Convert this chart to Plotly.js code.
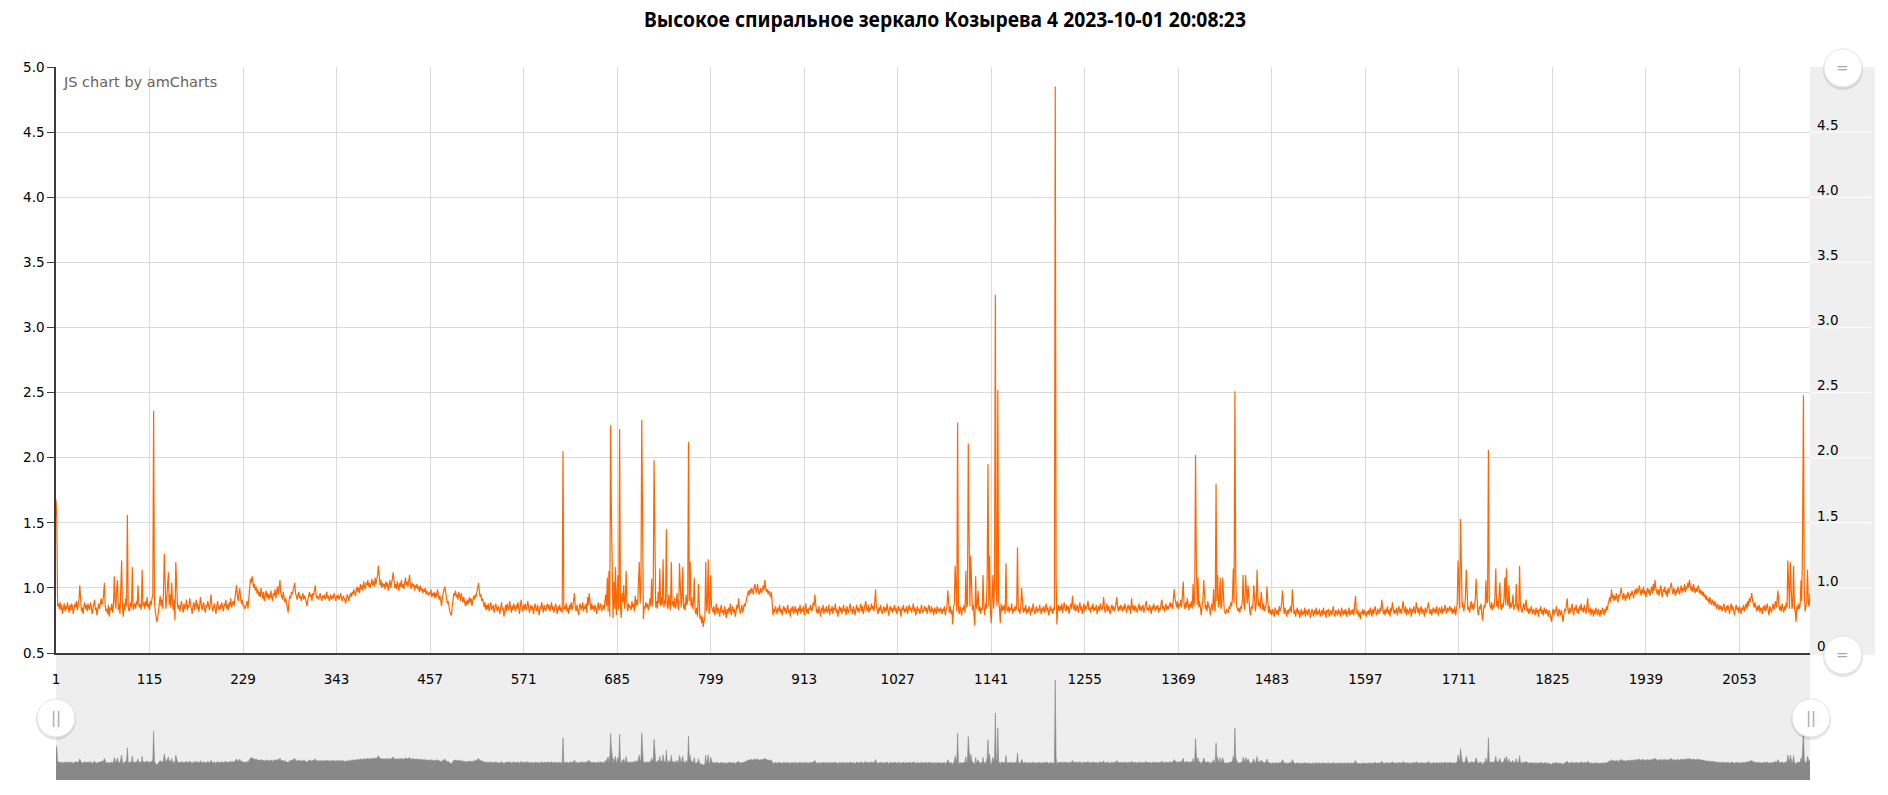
<!DOCTYPE html>
<html>
<head>
<meta charset="utf-8">
<script src="https://cdn.plot.ly/plotly-3.0.1.min.js"></script>
<style>
	html, body { margin: 0; padding: 0; background: #fff; }
	#chart { width: 1888px; height: 795px; }
</style>
</head>
<body>
<div id="chart"></div>
<script>
const chartTitle = 'Высокое спиральное зеркало Козырева 4 2023-10-01 20:08:23';

// one reading per sample, sample number = position + 1
const values = [
	// 1
	1.68, 1.52, .86, .88, .84, .89, .83, .87, .80, .85, .88, .82, .86, .84, .89, .85, .81, .87, .83, .88,
	.86, .80, .84, .88, .85, .90, .83, .86, .91, 1.02, .87, .82, .85, .80, .86, .89, .84, .87, .82, .88,
	.85, .83, .89, .86, .80, .84, .87, .91, .83, .85, .79, .86, .88, .84, .90, .92, .87, .89, .95, 1.04,
	.86, .82, .84, .80, .87, .78, .85, .83, .88, .81, .86, 1.09, .90, .84, 1.00, 1.06, .83, .88, .80, .95,
	1.21, .85, .78, .88, .83, .92, .86, 1.56, .87, .82, .84, .89, .85, 1.16, .83, .86, .88, .84, .90, .87,
	// 101
	1.02, .87, .85, .88, .83, 1.14, .86, .89, .84, .90, .86, .93, .85, .88, .83, .90, .87, .92, .95, 2.36,
	.90, .82, .78, .74, .77, .85, .88, .94, .86, .91, .84, .96, 1.26, .88, .84, .92, 1.02, 1.12, .87, .95,
	.85, 1.04, .89, .83, .91, .75, 1.20, .99, .88, .84, .87, .82, .86, .90, .85, .81, .88, .84, .86, .91,
	.83, .87, .85, .92, .88, .84, .80, .86, .89, .83, .87, .91, .84, .88, .82, .85, .93, .87, .83, .86,
	.89, .84, .81, .87, .85, .90, .86, .83, .88, .95, .87, .82, .85, .88, .84, .80, .86, .90, .85, .83,
	// 201
	.87, .84, .89, .85, .82, .88, .86, .91, .84, .87, .83, .89, .86, .92, .85, .88, .90, .86, .93, .97,
	1.02, .94, .90, .96, 1.00, .92, .88, .91, .86, .87, .84, .85, .88, .90, .84, .93, 1.01, 1.07, 1.04, 1.09,
	1.05, 1.00, 1.03, .98, 1.01, .96, .99, .94, .97, .93, 1.00, .95, .92, .97, .90, .94, .98, .93, .96, .91,
	.95, .92, .98, .93, .90, .96, .94, .99, .92, .97, 1.01, .95, 1.02, 1.06, .96, .93, .91, .97, .94, .89,
	.92, .88, .85, .81, .90, .94, .92, .97, .95, .99, 1.00, 1.04, .96, .93, .91, .95, .97, .92, .94, .90,
	// 301
	.93, .96, .91, .94, .92, .89, .86, .91, .94, .97, .93, .95, .90, .96, .94, .99, 1.02, .95, .92, .94,
	.91, .93, .96, .92, .90, .94, .92, .95, .91, .93, .97, .92, .94, .90, .93, .95, .91, .94, .92, .96,
	.93, .90, .94, .92, .95, .91, .93, .96, .92, .90, .94, .93, .91, .88, .92, .95, .93, .90, .94, .96,
	.93, .97, .95, .99, .96, .94, .98, 1.01, .97, 1.00, .96, 1.03, .99, 1.02, .98, 1.05, 1.01, .99, 1.04, 1.02,
	1.06, 1.01, 1.04, 1.00, 1.03, 1.07, 1.02, 1.05, 1.01, 1.08, 1.03, 1.06, 1.10, 1.17, 1.05, 1.02, 1.06, 1.00, 1.04, 1.01,
	// 401
	1.03, .99, 1.05, 1.01, 1.04, .98, 1.02, 1.06, 1.00, 1.03, 1.07, 1.12, 1.04, 1.00, 1.03, .99, 1.05, 1.02, .98, 1.04,
	1.01, 1.06, 1.00, 1.03, .99, 1.04, 1.08, 1.02, 1.05, 1.01, 1.06, 1.10, 1.03, .99, 1.04, 1.01, 1.03, .98, 1.02, 1.00,
	1.03, .99, 1.01, .97, 1.02, .98, 1.00, .96, .99, .97, 1.00, .95, .98, .96, .94, .97, .95, .99, .93, .96,
	.94, .97, .92, .96, .93, .99, .95, .91, .94, .89, .86, .93, .97, .99, 1.01, .95, .92, .88, .90, .85,
	.82, .80, .79, .86, .92, .96, .94, .98, .93, .95, .91, .97, .94, .90, .96, .92, .89, .93, .88, .86,
	// 501
	.90, .87, .91, .88, .93, .89, .92, .86, .90, .94, .91, .95, .93, .97, .99, 1.04, .98, .93, .95, .90,
	.92, .88, .85, .89, .83, .87, .84, .88, .82, .86, .89, .83, .85, .87, .81, .84, .88, .85, .82, .86,
	.84, .80, .86, .89, .83, .85, .78, .84, .87, .82, .88, .85, .83, .90, .84, .81, .86, .83, .88, .85,
	.82, .87, .84, .89, .83, .80, .86, .91, .85, .82, .87, .84, .88, .83, .85, .90, .86, .81, .84, .87,
	.83, .86, .80, .85, .88, .84, .82, .87, .83, .79, .86, .84, .89, .85, .81, .87, .84, .82, .86, .88,
	// 601
	.84, .87, .82, .85, .89, .83, .86, .81, .85, .88, .84, .80, .86, .83, .87, .82, .85, .81, 2.05, .83,
	.86, .84, .88, .82, .85, .80, .87, .84, .89, .83, .86, .91, .96, .85, .82, .87, .84, .79, .86, .88,
	.83, .85, .89, .82, .86, .84, .88, .81, .93, .87, .96, .85, .83, .88, .84, .86, .82, .87, .85, .80,
	.86, .89, .83, .85, .88, .82, .84, .87, .83, .90, .95, .86, 1.08, .82, 1.13, .78, 2.25, 1.54, .92, .77,
	1.05, .84, 1.16, .79, .94, 1.10, .83, 2.22, .86, .77, .96, .89, 1.02, .84, .91, 1.13, .87, .82, .88, .85,
	// 701
	.86, .83, .90, .85, .88, .82, .94, .86, .91, .87, 1.05, 1.20, .88, 1.00, 2.29, 1.30, .76, .86, .84, .89,
	.85, .88, .83, .87, .92, .86, 1.07, .86, 1.02, 1.98, 1.40, .85, .90, .84, .97, .88, 1.15, .86, .93, .87,
	1.22, .85, .91, .88, 1.45, .86, .84, .95, .88, .83, 1.20, .87, .90, .85, .92, .84, .88, .96, .86, .83,
	1.19, .89, .85, .92, 1.16, .84, .88, .83, .95, .87, .91, 2.12, .90, 1.20, .86, .93, .84, .89, 1.08, .83,
	.80, .85, .78, 1.03, .82, .76, .79, .73, .78, .70, .75, .78, 1.20, .82, .88, 1.22, .80, .84, 1.10, .86,
	// 801
	.84, .81, .86, .79, .83, .88, .80, .85, .82, .78, .84, .87, .81, .83, .79, .86, .82, .77, .84, .80,
	.85, .82, .88, .79, .83, .86, .81, .84, .78, .82, .87, .84, .92, .85, .80, .83, .87, .81, .85, .88,
	.86, .90, .92, .95, .98, .94, .99, .96, 1.00, .97, .95, 1.01, 1.03, .98, .96, 1.03, .99, .95, .97, 1.00,
	.96, .99, 1.02, .98, 1.06, 1.00, .97, .99, .95, .98, .96, .93, .97, .88, .79, .84, .81, .86, .83, .80,
	.85, .82, .87, .81, .84, .79, .83, .86, .82, .85, .80, .84, .87, .81, .83, .78, .85, .82, .86, .80,
	// 901
	.83, .86, .81, .84, .79, .85, .82, .87, .80, .84, .82, .86, .79, .83, .88, .81, .84, .80, .85, .83,
	.87, .82, .84, .89, .86, .95, .85, .81, .84, .80, .86, .83, .78, .85, .82, .87, .80, .84, .82, .86,
	.81, .83, .87, .79, .84, .82, .86, .80, .85, .83, .88, .81, .84, .78, .83, .86, .82, .85, .80, .84,
	.87, .82, .84, .79, .86, .83, .81, .85, .88, .82, .84, .80, .86, .83, .79, .84, .87, .82, .85, .81,
	.84, .88, .82, .86, .80, .83, .85, .90, .84, .82, .87, .81, .85, .83, .88, .84, .86, .82, .89, .99,
	// 1001
	.86, .83, .80, .85, .82, .87, .84, .80, .83, .86, .81, .85, .82, .88, .83, .79, .84, .86, .82, .85,
	.81, .84, .87, .82, .85, .80, .83, .86, .82, .84, .78, .85, .83, .87, .81, .84, .82, .86, .80, .84,
	.87, .83, .85, .81, .84, .88, .82, .85, .79, .83, .86, .82, .84, .80, .85, .87, .83, .81, .84, .86,
	.82, .85, .80, .84, .87, .83, .81, .86, .82, .84, .79, .85, .83, .80, .86, .82, .84, .81, .85, .83,
	.80, .84, .82, .86, .79, .83, .85, .98, .84, .81, .86, .80, .83, .72, .85, .88, 1.17, .86, .82, 2.27,
	// 1101
	.84, .80, .86, .82, .79, .85, .83, .87, .81, 1.13, .85, .88, 2.11, 1.40, .86, 1.25, .90, .83, .87, .81,
	.71, 1.09, .84, .88, .98, .82, .86, .80, .85, .83, 1.10, .85, .79, .88, .84, 1.08, 1.95, .86, 1.25, .82,
	.73, .90, 1.10, .84, 1.04, 3.25, 1.00, .86, 2.52, .90, .85, .73, .88, .82, .86, .83, .87, .80, 1.19, .84,
	.82, .86, .81, .85, .83, .88, .80, .84, .82, .86, .83, .85, 1.31, .82, .84, .80, .86, 1.00, .83, .81,
	.85, .82, .87, .80, .84, .81, .86, .83, .79, .85, .82, .88, .84, .80, .83, .86, .81, .84, .82, .87,
	// 1201
	.83, .80, .85, .82, .86, .81, .84, .88, .82, .85, .79, .83, .86, .82, .84, .80, .85, .83, 4.85, 1.10,
	.72, .84, .87, .82, .86, .83, .88, .81, .85, .89, .84, .82, .87, .83, .86, .80, .85, .88, .84, .94,
	.86, .83, .88, .82, .85, .87, .81, .84, .89, .83, .86, .80, .85, .88, .82, .86, .84, .87, .90, .83,
	.85, .81, .86, .84, .88, .82, .85, .83, .87, .80, .84, .86, .82, .88, .85, .83, .86, .93, .84, .81,
	.85, .88, .82, .86, .83, .80, .85, .87, .83, .86, .82, .84, .88, .93, .85, .82, .86, .83, .87, .84,
	// 1301
	.82, .86, .83, .88, .84, .81, .85, .87, .83, .86, .80, .92, .85, .83, .87, .82, .86, .84, .81, .85,
	.88, .83, .86, .82, .85, .87, .81, .84, .86, .90, .83, .85, .82, .87, .84, .80, .86, .83, .88, .85,
	.82, .86, .84, .87, .81, .85, .83, .88, .91, .84, .86, .82, .85, .88, .83, .86, .84, .87, .89, .85,
	.88, .84, .90, .99, .92, .87, .85, .90, .84, .88, .86, .91, .85, .94, 1.05, .87, .84, .89, .85, .92,
	.86, .83, .88, .85, .90, .84, 1.03, .86, .92, 2.02, 1.20, .87, 1.08, .85, .90, .83, .79, .86, .91, 1.06,
	// 1401
	.88, .84, .87, .82, .90, .85, .86, .79, .84, .88, .83, .99, .86, .82, 1.80, .90, 1.10, .85, .88, 1.08,
	.84, .87, 1.08, .85, .83, .81, .80, .84, .82, .81, .86, .84, .89, .86, .92, 1.15, .88, 2.51, 1.10, .86,
	.84, .82, .85, .81, .86, .84, .90, 1.10, .87, .83, 1.10, .92, .88, 1.02, .85, .83, .79, .86, .84, .88,
	1.02, .85, .82, .88, 1.14, .93, .86, .89, .84, .97, .86, .83, .88, .82, .85, .87, 1.01, .84, .81, .86,
	.80, .83, .79, .84, .81, .78, .85, .82, .80, .83, .79, .86, .82, .84, .88, .98, .83, .80, .85, .81,
	// 1501
	.78, .83, .80, .84, .82, .86, .81, .99, .84, .80, .83, .78, .82, .85, .80, .83, .77, .81, .84, .79,
	.82, .80, .85, .78, .83, .81, .79, .84, .82, .77, .80, .84, .81, .78, .83, .80, .85, .79, .82, .80,
	.84, .78, .81, .83, .79, .85, .80, .82, .77, .83, .81, .84, .78, .80, .83, .79, .82, .86, .80, .78,
	.83, .81, .79, .84, .80, .82, .78, .85, .81, .79, .83, .80, .84, .78, .82, .80, .85, .79, .81, .83,
	.80, .84, .79, .86, .94, .82, .80, .83, .78, .81, .76, .82, .80, .84, .79, .83, .81, .78, .82, .80,
	// 1601
	.83, .79, .85, .81, .78, .84, .80, .83, .86, .81, .79, .84, .82, .80, .85, .82, .91, .84, .80, .83,
	.79, .84, .81, .86, .80, .83, .78, .85, .82, .89, .84, .80, .83, .81, .85, .79, .83, .86, .81, .84,
	.80, .85, .90, .83, .81, .86, .79, .84, .82, .80, .85, .83, .78, .84, .81, .86, .82, .80, .89, .84,
	.81, .85, .79, .83, .86, .80, .84, .82, .78, .85, .81, .83, .86, .89, .82, .80, .84, .79, .83, .85,
	.81, .84, .80, .86, .82, .79, .85, .83, .81, .86, .80, .84, .82, .87, .83, .80, .85, .82, .84, .86,
	// 1701
	.82, .85, .80, .84, .81, .86, .79, .83, .88, 1.21, .90, .84, 1.53, 1.00, .85, .89, .82, .86, .92, 1.14,
	.87, .83, .86, .81, .85, .90, .84, .88, .83, .86, .91, 1.07, .85, .82, .79, .86, .84, .88, .80, .75,
	.83, .87, .85, 1.06, .88, .90, 2.06, .92, .86, .84, .89, .83, .87, .85, .94, 1.15, .86, .90, .84, 1.02,
	1.04, .86, .83, .88, .85, .92, 1.08, .87, 1.15, .90, .86, 1.02, .84, .89, .85, .88, .95, .83, .87, .86,
	1.03, .84, .88, .82, 1.17, .86, .84, .81, .85, .88, .83, .86, .91, .82, .85, .80, .84, .81, .86, .83,
	// 1801
	.80, .84, .82, .79, .85, .81, .83, .78, .84, .82, .86, .80, .83, .79, .85, .82, .80, .84, .81, .78,
	.83, .80, .77, .74, .81, .84, .79, .83, .82, .86, .80, .78, .84, .81, .79, .83, .77, .74, .80, .84,
	.82, .86, .92, .83, .80, .85, .81, .84, .88, .82, .79, .85, .83, .87, .81, .84, .80, .86, .83, .88,
	.82, .85, .81, .87, .84, .80, .86, .92, .83, .81, .85, .79, .84, .82, .78, .83, .80, .85, .82, .79,
	.84, .81, .78, .83, .80, .85, .82, .79, .84, .81, .86, .83, .88, .91, .93, .89, .99, .92, .95, .90,
	// 1901
	.94, .91, .96, .92, .89, .95, .93, .97, 1.00, .94, .91, .96, .93, .90, .95, .92, .97, .94, .91, .96,
	.94, .98, .95, .92, .97, .99, .95, 1.00, .96, .98, 1.02, .97, .94, .99, .96, 1.01, .95, .98, .93, .97,
	1.00, .96, .99, .94, .98, 1.01, .96, 1.03, .98, 1.06, 1.00, .97, .95, .99, .94, .98, 1.02, .96, .93, .99,
	.97, 1.01, .95, .98, .93, 1.00, .96, .99, 1.02, 1.04, .98, .95, 1.00, .97, .94, .99, .96, 1.01, .97, .95,
	.99, 1.02, .96, 1.00, .98, 1.03, .97, 1.01, .99, 1.04, 1.00, 1.06, 1.02, .98, 1.01, .97, 1.03, .99, .96, 1.00,
	// 2001
	.97, 1.00, 1.02, .96, .99, .95, .98, .94, .97, .93, .95, .91, .94, .90, .92, .88, .93, .90, .87, .91,
	.89, .86, .90, .87, .84, .88, .85, .83, .87, .84, .86, .82, .85, .88, .84, .81, .86, .83, .87, .84,
	.80, .85, .88, .83, .86, .82, .79, .84, .87, .83, .85, .81, .86, .84, .80, .85, .83, .87, .82, .85,
	.88, .84, .90, .86, .92, .89, .93, .96, .90, .87, .85, .89, .84, .82, .86, .83, .87, .81, .85, .84,
	.80, .86, .83, .87, .82, .85, .88, .83, .79, .86, .84, .81, .85, .88, .83, .86, .90, .85, .92, .98,
	// 2101
	.87, .83, .86, .82, .88, .84, .81, .86, .83, .89, .85, 1.21, .88, .84, 1.20, .90, .84, .87, 1.17, .85,
	.82, .74, .86, .83, .88, .84, .87, 1.06, .90, 1.45, 2.48, 1.00, .82, .86, .90, 1.14, .88, .86, .96
];

// category axis: sample numbers
const samples = values.map((v, k) => k + 1);

// value axis ticks (left axis and the value scrollbar on the right)
const valueTicks = [0.5, 1.0, 1.5, 2.0, 2.5, 3.0, 3.5, 4.0, 4.5];
const valueTickText = ['0.5', '1.0', '1.5', '2.0', '2.5', '3.0', '3.5', '4.0', '4.5'];

const lineColor = '#ff6600';
const gridColor = '#dadada';
const axisColor = '#3c3c3c';
const bandColor = '#eeeeee';
const tickFont = { family: 'DejaVu Sans, Verdana, sans-serif', size: 13.5, color: '#000' };
const titleWidth = 602; // the title is drawn in a narrow face

function handle(x, y, symbol) {
	const circle = (r, dy, fill, line) => ({
		type: 'circle',
		xref: 'paper', yref: 'paper',
		xsizemode: 'pixel', ysizemode: 'pixel',
		xanchor: x, yanchor: y,
		x0: -r, x1: r, y0: -r - dy, y1: r - dy,
		fillcolor: fill,
		line: { color: line, width: 1 },
		layer: 'above',
	});
	return {
		shapes: [
			circle(20, 2, 'rgba(0,0,0,0.10)', 'rgba(0,0,0,0)'),
			circle(19, 0, '#ffffff', '#e2e2e2'),
		],
		annotation: {
			xref: 'paper', yref: 'paper', x, y,
			text: symbol, showarrow: false,
			font: { family: 'DejaVu Sans, sans-serif', size: 15, color: '#a8a8a8' },
			xanchor: 'center', yanchor: 'middle',
		},
	};
}

function createPlot() {
	const N = values.length;

	const traceMain = {
		x: samples,
		y: values,
		type: 'scatter',
		mode: 'lines',
		line: { color: lineColor, width: 1.2 },
		xaxis: 'x',
		yaxis: 'y',
		hoverinfo: 'x+y',
	};

	// keeps the right hand value axis alive
	const traceRight = {
		x: [1],
		y: [1],
		type: 'scatter',
		mode: 'lines',
		line: { width: 0 },
		xaxis: 'x',
		yaxis: 'y2',
		hoverinfo: 'skip',
	};

	const traceScroll = {
		x: samples,
		y: values,
		type: 'scatter',
		mode: 'lines',
		fill: 'tozeroy',
		fillcolor: '#888888',
		line: { color: '#888888', width: 0.6 },
		xaxis: 'x2',
		yaxis: 'y3',
		hoverinfo: 'skip',
	};

	const bandShapes = [
		// category scrollbar background
		{
			type: 'rect', xref: 'paper', yref: 'paper',
			x0: 0, x1: 1, y0: 0, y1: 0.178,
			fillcolor: bandColor, line: { width: 0 }, layer: 'below',
		},
		// value scrollbar background
		{
			type: 'rect', xref: 'paper', yref: 'paper',
			x0: 1, x1: 1.037, y0: 0.175, y1: 1,
			fillcolor: '#efefef', line: { width: 0 }, layer: 'below',
		},
	];
	valueTicks.slice(1).forEach((v) => {
		bandShapes.push({
			type: 'line', xref: 'paper', yref: 'y',
			x0: 1, x1: 1.035, y0: v, y1: v,
			line: { color: '#fafafa', width: 1.5 }, layer: 'below',
		});
	});

	const handles = [
		handle(1.0188, 0.9986, '='),
		handle(1.0188, 0.1753, '='),
		handle(0, 0.087, '||'),
		handle(1.0006, 0.087, '||'),
	];
	const handleShapes = handles.flatMap((h) => h.shapes);
	const handleNotes = handles.map((h) => h.annotation);

	const layout = {
		width: 1888,
		height: 795,
		margin: { l: 56, r: 78, t: 67, b: 15 },
		paper_bgcolor: '#ffffff',
		plot_bgcolor: 'rgba(0,0,0,0)',
		showlegend: false,
		title: {
			text: chartTitle,
			x: 0.5005,
			xanchor: 'center',
			y: 0.976,
			yanchor: 'middle',
			font: { family: 'Noto Sans, Liberation Sans, sans-serif', size: 22, weight: 'bold', color: '#000' },
		},
		xaxis: {
			domain: [0, 1],
			anchor: 'y',
			range: [1, N],
			tick0: 1,
			dtick: 114,
			showgrid: true,
			gridcolor: gridColor,
			gridwidth: 1,
			zeroline: false,
			showline: true,
			linecolor: axisColor,
			linewidth: 1.5,
			ticks: '',
			ticklabelstandoff: 13,
			tickfont: tickFont,
			fixedrange: true,
		},
		yaxis: {
			domain: [0.178, 1],
			anchor: 'x',
			range: [0.5, 5.0],
			dtick: 0.5,
			tick0: 0.5,
			tickformat: '.1f',
			showgrid: true,
			gridcolor: gridColor,
			gridwidth: 1,
			zeroline: false,
			showline: true,
			linecolor: axisColor,
			linewidth: 1.5,
			ticks: 'outside',
			ticklen: 7,
			tickcolor: axisColor,
			tickfont: tickFont,
			fixedrange: true,
		},
		yaxis2: {
			overlaying: 'y',
			side: 'right',
			anchor: 'free',
			position: 1,
			range: [0.5, 5.0],
			tickmode: 'array',
			tickvals: valueTicks,
			ticktext: valueTickText,
			showgrid: false,
			zeroline: false,
			showline: false,
			ticks: '',
			ticklabelstandoff: 6,
			ticklabelshift: -7,
			tickfont: tickFont,
			fixedrange: true,
		},
		xaxis2: {
			domain: [0, 1],
			anchor: 'y3',
			range: [1, N],
			showgrid: false,
			zeroline: false,
			showline: false,
			showticklabels: false,
			ticks: '',
			fixedrange: true,
		},
		yaxis3: {
			domain: [0, 0.178],
			anchor: 'x2',
			range: [0, 6.15],
			visible: false,
			fixedrange: true,
		},
		shapes: bandShapes.concat(handleShapes),
		annotations: [
			{
				xref: 'paper', yref: 'paper',
				x: 0.0028, y: 0.979,
				xanchor: 'left', yanchor: 'middle',
				text: 'JS chart by amCharts',
				showarrow: false,
				font: { family: 'DejaVu Sans, Verdana, sans-serif', size: 14.5, color: '#6b6355' },
			},
		].concat(handleNotes),
	};

	const config = { displayModeBar: false, responsive: false };
	Plotly.newPlot('chart', [traceScroll, traceMain, traceRight], layout, config).then((gd) => {
		const title = gd.querySelector('.gtitle');
		if (title) {
			title.setAttribute('textLength', titleWidth);
			title.setAttribute('lengthAdjust', 'spacingAndGlyphs');
		}
	});
}

document.addEventListener('DOMContentLoaded', createPlot);
</script>
</body>
</html>
